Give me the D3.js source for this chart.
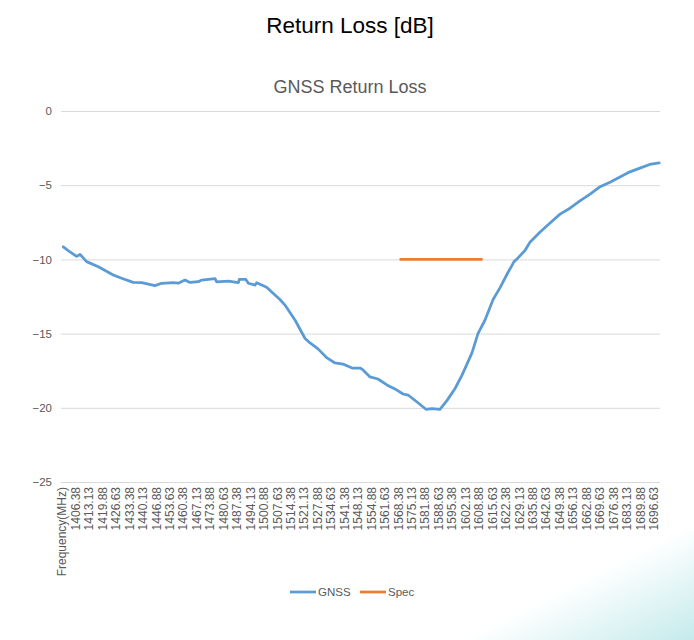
<!DOCTYPE html>
<html><head><meta charset="utf-8">
<script src="https://cdn.jsdelivr.net/npm/d3@7"></script>
<style>
body{margin:0;background:#fff}
svg{display:block}
text{font-family:"Liberation Sans",Arial,Helvetica,sans-serif}
</style>
</head><body>
<svg id="chart" width="694" height="640"></svg>
<script>
// ---- data ----
const xTickLabels = ["Frequency(MHz)","1406.38","1413.13","1419.88","1426.63","1433.38","1440.13","1446.88","1453.63","1460.38","1467.13","1473.88","1480.63","1487.38","1494.13","1500.88","1507.63","1514.38","1521.13","1527.88","1534.63","1541.38","1548.13","1554.88","1561.63","1568.38","1575.13","1581.88","1588.63","1595.38","1602.13","1608.88","1615.63","1622.38","1629.13","1635.88","1642.63","1649.38","1656.13","1662.88","1669.63","1676.38","1683.13","1689.88","1696.63"];
const headerCategoryFreq = 1399.63;   // slot of the "Frequency(MHz)" header category
const yTicks = [0,-5,-10,-15,-20,-25];

const gnssFreq = [1400.38,1403.8,1407.1,1408.8,1412.1,1418.0,1425.5,1429.7,1435.5,1439.8,1446.4,1449.8,1455.6,1458.1,1461.5,1464.0,1468.2,1469.9,1476.6,1477.4,1483.3,1488.3,1488.8,1492.0,1493.3,1496.7,1497.5,1502.5,1506.7,1509.2,1511.7,1516.8,1521.8,1524.3,1528.3,1532.8,1536.8,1540.8,1545.4,1549.4,1550.9,1554.4,1558.4,1562.9,1566.9,1571.0,1573.5,1578.0,1582.5,1585.5,1589.5,1593.1,1597.1,1600.6,1605.6,1608.6,1612.1,1616.2,1619.7,1623.2,1626.7,1628.7,1632.2,1634.7,1639.8,1644.8,1649.8,1654.8,1659.8,1664.9,1669.9,1674.9,1679.9,1684.9,1689.9,1694.8,1699.63];
const gnssDb   = [-9.15,-9.5,-9.8,-9.66,-10.15,-10.5,-11.05,-11.27,-11.55,-11.57,-11.77,-11.61,-11.57,-11.6,-11.39,-11.55,-11.5,-11.39,-11.3,-11.52,-11.46,-11.57,-11.34,-11.34,-11.61,-11.73,-11.57,-11.88,-12.4,-12.7,-13.08,-14.1,-15.33,-15.63,-16.03,-16.64,-16.98,-17.05,-17.32,-17.32,-17.45,-17.92,-18.06,-18.46,-18.73,-19.07,-19.14,-19.61,-20.1,-20.05,-20.1,-19.5,-18.7,-17.8,-16.3,-15.0,-14.1,-12.7,-11.9,-11.0,-10.15,-9.9,-9.4,-8.85,-8.15,-7.55,-6.95,-6.55,-6.05,-5.6,-5.1,-4.8,-4.45,-4.1,-3.85,-3.6,-3.5];

const specFreq = [1569.8,1610.4];
const specDb   = [-10,-10];

const seriesNames = ["GNSS","Spec"];
const seriesColors = ["#5B9BD5","#ED7D31"];

// ---- chart ----
const svg = d3.select("#chart");
const W = 694, H = 640;
const plot = {left:61, right:660, top:111, bottom:482};

// background decoration (bottom-right tint)
const defs = svg.append("defs");
const grad = defs.append("linearGradient").attr("id","bgGrad")
  .attr("gradientUnits","userSpaceOnUse")
  .attr("x1",592).attr("y1",575).attr("x2",640).attr("y2",672);
grad.append("stop").attr("offset",0).attr("stop-color","#ffffff");
grad.append("stop").attr("offset",1).attr("stop-color","#c2e9eb");
svg.append("rect").attr("width",W).attr("height",H).attr("fill","url(#bgGrad)");

const x = d3.scaleLinear().domain([1399.25, 1700.0]).range([plot.left, plot.right]);
const y = d3.scaleLinear().domain([-25, 0]).range([plot.bottom, plot.top]);

// titles
svg.append("text").attr("x",350).attr("y",33).attr("text-anchor","middle")
  .attr("font-size",22.5).attr("fill","#000").text("Return Loss [dB]");
svg.append("text").attr("x",350).attr("y",92.5).attr("text-anchor","middle")
  .attr("font-size",18).attr("fill","#595959").text("GNSS Return Loss");

// gridlines
svg.append("g").selectAll("line").data(yTicks).join("line")
  .attr("x1",plot.left).attr("x2",plot.right)
  .attr("y1",d=>y(d)+0.5).attr("y2",d=>y(d)+0.5)
  .attr("stroke","#d9d9d9").attr("stroke-width",1);

// y axis
const gy = svg.append("g").attr("transform",`translate(${plot.left},0)`)
  .call(d3.axisLeft(y).tickValues(yTicks).tickSize(0).tickPadding(9).tickFormat(d3.format("d")));
gy.select(".domain").remove();
gy.selectAll("text").attr("font-size",11.5).attr("fill","#595959").attr("font-family",null);

// x axis (category labels)
const xTickFreqs = xTickLabels.map((s,i)=> i===0 ? headerCategoryFreq : parseFloat(s));
const gx = svg.append("g").attr("transform",`translate(0,${plot.bottom})`)
  .call(d3.axisBottom(x).tickValues(xTickFreqs).tickSize(0).tickFormat((d,i)=>xTickLabels[i]));
gx.select(".domain").remove();
gx.selectAll("text")
  .attr("transform","rotate(-90)")
  .attr("text-anchor","end")
  .attr("x",-5).attr("y",0).attr("dy","0.35em")
  .attr("font-size",12).attr("fill","#595959").attr("font-family",null);

// lines
const line = d3.line().x(d=>x(d[0])).y(d=>y(d[1]));
const gnssData = gnssFreq.map((f,i)=>[f,gnssDb[i]]);
const specData = specFreq.map((f,i)=>[f,specDb[i]]);
svg.append("path").datum(gnssData).attr("d",line)
  .attr("fill","none").attr("stroke",seriesColors[0]).attr("stroke-width",2.75)
  .attr("stroke-linejoin","round").attr("stroke-linecap","round");
svg.append("path").datum(specData).attr("d",line)
  .attr("fill","none").attr("stroke",seriesColors[1]).attr("stroke-width",2.75)
  .attr("stroke-linecap","round");

// legend
const legendX = [290, 360];
const lg = svg.append("g").selectAll("g").data(seriesNames).join("g")
  .attr("transform",(d,i)=>`translate(${legendX[i]},592)`);
lg.append("line").attr("x1",0).attr("x2",26).attr("y1",0).attr("y2",0)
  .attr("stroke",(d,i)=>seriesColors[i]).attr("stroke-width",2.75);
lg.append("text").attr("x",28).attr("y",0).attr("dy","0.35em")
  .attr("font-size",11.5).attr("fill","#595959").text(d=>d);
</script>
</body></html>
